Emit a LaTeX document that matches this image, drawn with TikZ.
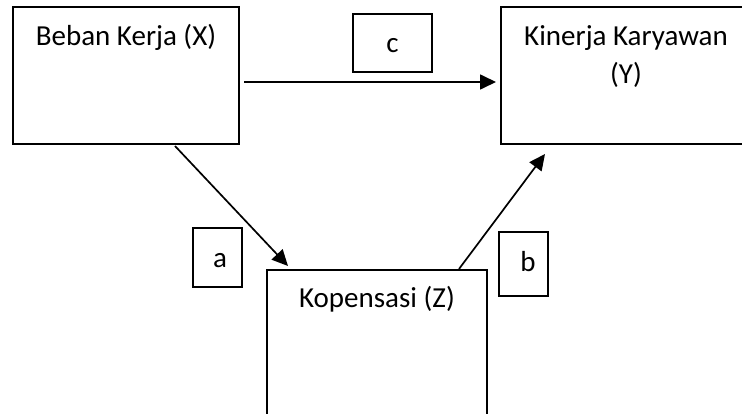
\documentclass[tikz,border=0pt]{standalone}
\usepackage{fontspec}
\setmainfont{Carlito}
\usetikzlibrary{arrows.meta}
\begin{document}
\begin{tikzpicture}[x=1pt,y=1pt,
  bigbox/.style={draw=black, line width=2pt, fill=none, inner sep=0pt},
  tagbox/.style={draw=black, line width=2pt, inner sep=0pt, text height=20pt, text depth=0pt},
  txt/.style={inner sep=0pt, align=center},
  arr/.style={draw=black, line width=1.7pt, -{Triangle[length=16pt,width=15pt]}},
  font=\fontsize{29}{38}\selectfont]
\useasboundingbox (0,0) rectangle (742,-414);
\clip (0,0) rectangle (742,-414);
% main boxes
\node[bigbox, minimum width=226pt, minimum height=137pt] (X) at (126,-75.5) {};
\node[bigbox, minimum width=250pt, minimum height=137pt] (Y) at (626,-75.5) {};
\node[bigbox, minimum width=220pt, minimum height=160pt] (Z) at (377,-350) {};
% box texts
\node[txt, anchor=base] (Xt) at ([yshift=-40pt]X.north) {Beban Kerja (X)};
\node[txt, anchor=north] (Yt) at ([yshift=-19.5pt]Y.north) {Kinerja Karyawan\\(Y)};
\node[txt, anchor=base] (Zt) at ([yshift=-39pt]Z.north) {Kopensasi (Z)};
% path tags
\node[tagbox, minimum width=79pt, minimum height=58pt] (c) at (392.5,-43) {c};
\node[tagbox, minimum width=49pt, minimum height=59pt] (a) at (217.5,-257.5) {\hspace*{5pt}a};
\node[tagbox, minimum width=49pt, minimum height=64pt, text height=16pt] (b) at (523.5,-264) {\hspace*{9pt}b};
% arrows
\draw[arr] ([shift={(4pt,-6.5pt)}]X.east) -- ([shift={(-4pt,-6.5pt)}]Y.west);
\draw[arr] ([shift={(49pt,-1pt)}]X.south) -- ([shift={(-89pt,3pt)}]Z.north);
\draw[arr] ([xshift=82pt]Z.north) -- ([shift={(-81pt,-9pt)}]Y.south);
\end{tikzpicture}
\end{document}
